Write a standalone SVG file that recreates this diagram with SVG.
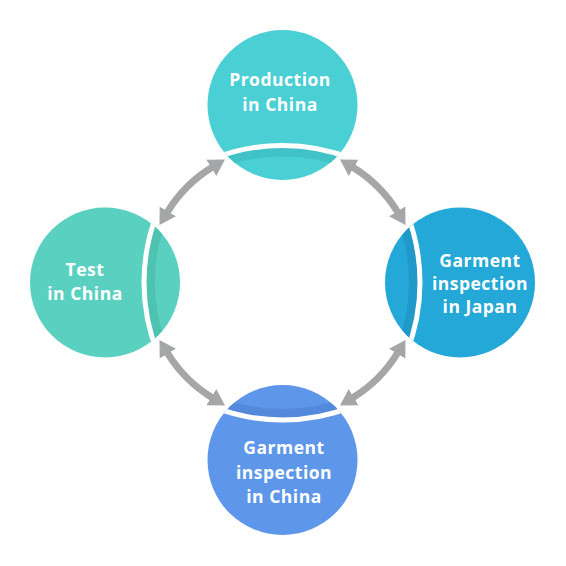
<svg xmlns="http://www.w3.org/2000/svg" width="566" height="566" viewBox="0 0 566 566">
<style>
.lbl{font-family:"Open Sans","Noto Sans","Liberation Sans",sans-serif;font-weight:700;font-size:17.5px;letter-spacing:0.5px;fill:#ffffff;text-anchor:middle}
.gap{fill:none;stroke:#ffffff;stroke-width:5}
.arrow{fill:none;stroke:#a4a6a8;stroke-width:7}
</style>
<defs>
<marker id="ah" markerUnits="userSpaceOnUse" markerWidth="17" markerHeight="21" viewBox="0 0 17 21" refX="1" refY="10.5" orient="auto-start-reverse">
<path d="M0,1 L16,10.5 L0,20 Z" fill="#a4a6a8"/>
</marker>
<clipPath id="cTop"><circle cx="282.5" cy="105" r="75"/></clipPath>
<clipPath id="cRight"><circle cx="460" cy="282.5" r="75"/></clipPath>
<clipPath id="cBottom"><circle cx="282.5" cy="460" r="75"/></clipPath>
<clipPath id="cLeft"><circle cx="105" cy="282.5" r="75"/></clipPath>
</defs>
<rect width="566" height="566" fill="#ffffff"/>

<g id="connectors">
<path class="arrow" d="M167.3 212.2 A135 135 0 0 1 212.2 167.3" marker-start="url(#ah)" marker-end="url(#ah)"/>
<path class="arrow" d="M352.8 167.3 A135 135 0 0 1 397.7 212.2" marker-start="url(#ah)" marker-end="url(#ah)"/>
<path class="arrow" d="M397.7 352.8 A135 135 0 0 1 352.8 397.7" marker-start="url(#ah)" marker-end="url(#ah)"/>
<path class="arrow" d="M212.2 397.7 A135 135 0 0 1 167.3 352.8" marker-start="url(#ah)" marker-end="url(#ah)"/>
</g>

<g id="node-top">
<circle cx="282.5" cy="105" r="75" fill="#4acfd4"/>
<g clip-path="url(#cTop)">
<circle cx="282.5" cy="335.5" r="183.5" fill="none" stroke="#40c2c7" stroke-width="9"/>
<circle class="gap" cx="282.5" cy="335.5" r="190"/>
</g>
<text class="lbl" x="280" y="86">Production</text>
<text class="lbl" x="280" y="111">in China</text>
</g>

<g id="node-right">
<circle cx="460" cy="282.5" r="75" fill="#23a8d8"/>
<g clip-path="url(#cRight)">
<circle cx="230" cy="282.5" r="183.5" fill="none" stroke="#2099c8" stroke-width="9"/>
<circle class="gap" cx="230" cy="282.5" r="190"/>
</g>
<text class="lbl" x="480" y="267">Garment</text>
<text class="lbl" x="480" y="290">inspection</text>
<text class="lbl" x="480" y="313">in Japan</text>
</g>

<g id="node-bottom">
<circle cx="282.5" cy="460" r="75" fill="#5e96e9"/>
<g clip-path="url(#cBottom)">
<circle cx="282.5" cy="230" r="183.5" fill="none" stroke="#5389db" stroke-width="9"/>
<circle class="gap" cx="282.5" cy="230" r="190"/>
</g>
<text class="lbl" x="284" y="454">Garment</text>
<text class="lbl" x="284" y="479">inspection</text>
<text class="lbl" x="284" y="503">in China</text>
</g>

<g id="node-left">
<circle cx="105" cy="282.5" r="75" fill="#5ad1c0"/>
<g clip-path="url(#cLeft)">
<circle cx="334" cy="282.5" r="183.5" fill="none" stroke="#4fc3b2" stroke-width="9"/>
<circle class="gap" cx="334" cy="282.5" r="190"/>
</g>
<text class="lbl" x="85" y="276">Test</text>
<text class="lbl" x="85" y="300">in China</text>
</g>
</svg>
